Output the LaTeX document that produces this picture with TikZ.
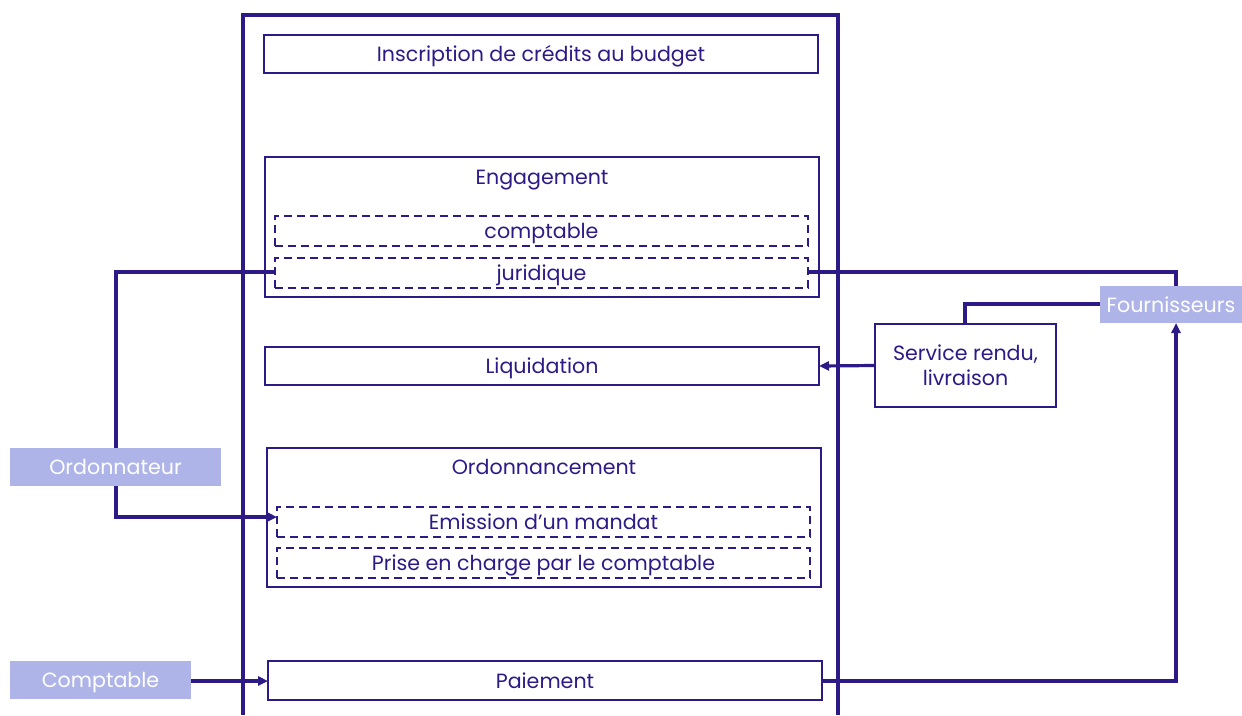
\documentclass[tikz,border=0pt]{standalone}
\usepackage{fontspec}
\setmainfont{Poppins}
\usetikzlibrary{arrows.meta,backgrounds}
\definecolor{ink}{HTML}{2E1A87}
\definecolor{lav}{HTML}{AEB4E8}
\tikzset{
  x=1pt, y=-1pt,
  every node/.style={inner sep=0pt, outer sep=0pt, font=\fontsize{20.6}{25}\selectfont, text=ink, text height=15pt, text depth=0pt},
  boxa/.style={draw=ink, line width=2.2pt},
  dbox/.style={draw=ink, line width=2.2pt, dash pattern=on 8pt off 5pt},
  actor/.style={fill=lav, text=white},
  conn/.style={draw=ink, line width=3.2pt},
  arr/.style={conn, -{Triangle[length=10pt,width=9pt]}},
}
\begin{document}
\begin{tikzpicture}
\useasboundingbox (0,0) rectangle (1242,715);
% main frame
\draw[draw=ink, line width=3.8pt] (243,715) -- (243,15) -- (838,15) -- (838,715);
% boxes
\node[boxa, minimum width=554pt, minimum height=38pt] (insc) at (541,54) {Inscription de crédits au budget};
\node[boxa, minimum width=554pt, minimum height=140pt] (eng) at (542,227) {};
\node[anchor=center] (engt) at (542,177) {Engagement};
\node[dbox, minimum width=533pt, minimum height=30pt] (compt) at (541.5,231) {comptable};
\node[dbox, minimum width=533pt, minimum height=30pt] (jur) at (541.5,273) {juridique};
\node[boxa, minimum width=554pt, minimum height=38pt] (liq) at (542,366) {Liquidation};
\node[boxa, minimum width=554pt, minimum height=139pt] (ord) at (544,517.5) {};
\node[anchor=center] (ordt) at (544,467) {Ordonnancement};
\node[dbox, minimum width=533pt, minimum height=30pt] (emi) at (543.5,522) {Emission d’un mandat};
\node[dbox, minimum width=533pt, minimum height=30pt] (prise) at (543.5,563) {Prise en charge par le comptable};
\node[boxa, minimum width=554pt, minimum height=39pt] (pai) at (545,680.5) {Paiement};
\node[boxa, minimum width=181pt, minimum height=83pt, align=center, text height=39pt] (serv) at (965.5,365.5) {Service rendu,\\livraison};
% actors
\node[actor, minimum width=142pt, minimum height=37pt] (four) at (1171,304.5) {Fournisseurs};
\node[actor, minimum width=211pt, minimum height=38pt] (ordo) at (115.5,467) {Ordonnateur};
\node[actor, minimum width=181pt, minimum height=38pt] (comp) at (100.5,680) {Comptable};
% connectors
\begin{scope}[on background layer]
\coordinate (c1) at (116,272);
\coordinate (c2) at (116,517);
\draw[arr] (jur.west |- c1) -- (c1) -- (c2) -- (emi.west |- c2);
\coordinate (c3) at (1176,272);
\draw[conn] (jur.east |- c3) -- (c3) -- (c3 |- four.north);
\coordinate (c4) at (965,304);
\draw[conn] (four.west |- c4) -- (c4) -- (serv.north -| c4);
\draw[arr] (serv.west) -- (liq.east);
\coordinate (c5) at (1176,681);
\draw[arr] (pai.east |- c5) -- (c5) -- (c5 |- four.south);
\draw[arr] (comp.east |- c5) -- (pai.west |- c5);
\end{scope}
\end{tikzpicture}
\end{document}
